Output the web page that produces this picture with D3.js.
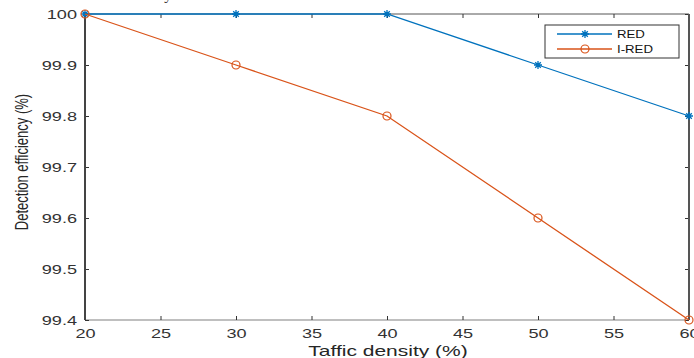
<!DOCTYPE html>
<html>
<head>
  <meta charset="utf-8">
  <script src="https://d3js.org/d3.v7.min.js"></script>
  <style>
    body { margin: 0; background: white; }
    svg { display: block; font-family: "Liberation Sans", Arial, sans-serif; }
    .tick text { fill: #333; font-size: 12.5px; }
  </style>
</head>
<body>
<script>
  // chart data
  var density = [20, 30, 40, 50, 60];
  var red = [100, 100, 100, 99.9, 99.8];
  var ired = [100, 99.9, 99.8, 99.6, 99.4];
  var xTicks = [20, 25, 30, 35, 40, 45, 50, 55, 60];
  var yTicks = [99.4, 99.5, 99.6, 99.7, 99.8, 99.9, 100];
  var seriesNames = ["RED", "I-RED"];

  var W = 694, H = 358;
  var mLeft = 85, mRight = 689, mTop = 14, mBottom = 320;
  var sx = 1.45; // the figure looks stretched sideways

  var svg = d3.select("body").append("svg").attr("width", W).attr("height", H);

  var x = d3.scaleLinear().domain([20, 60]).range([mLeft, mRight]);
  var y = d3.scaleLinear().domain([99.4, 100]).range([mBottom, mTop]);

  // widen a text around its anchor point
  function widen(sel, k) {
    sel.each(function () {
      var ax = +d3.select(this).attr("x") || 0;
      d3.select(this).attr("transform",
        "translate(" + ax + ",0) scale(" + k + ",1) translate(" + (-ax) + ",0)");
    });
  }

  // scrap of the page text cut off above the figure
  svg.append("text")
    .attr("x", 30).attr("y", 0)
    .attr("font-size", 15).attr("fill", "#222")
    .attr("font-family", "Liberation Serif, serif")
    .text("when the traffic density increases from 20% to 60%");

  // box lines
  svg.append("line").attr("x1", mLeft).attr("x2", mRight).attr("y1", mTop).attr("y2", mTop)
    .attr("stroke", "#555").attr("stroke-width", 1);
  svg.append("line").attr("x1", mLeft).attr("x2", mRight).attr("y1", mBottom).attr("y2", mBottom)
    .attr("stroke", "#aaa").attr("stroke-width", 1.5);

  // axes
  var xAxis = svg.append("g").attr("transform", "translate(0," + mBottom + ")")
    .call(d3.axisBottom(x).tickValues(xTicks).tickSize(-4).tickPadding(9).tickFormat(d3.format("d")));
  xAxis.select(".domain").remove();
  xAxis.selectAll(".tick line").attr("stroke", "#333");
  widen(xAxis.selectAll(".tick text"), sx);

  var xTop = svg.append("g").attr("transform", "translate(0," + mTop + ")")
    .call(d3.axisTop(x).tickValues(xTicks).tickSize(-4).tickFormat(""));
  xTop.select(".domain").remove();
  xTop.selectAll(".tick line").attr("stroke", "#333");

  var yAxis = svg.append("g").attr("transform", "translate(" + mLeft + ",0)")
    .call(d3.axisLeft(y).tickValues(yTicks).tickSize(-4).tickPadding(8)
      .tickFormat(function (d) { return d === 100 ? "100" : d3.format(".1f")(d); }));
  yAxis.select(".domain").remove();
  yAxis.selectAll(".tick line").attr("stroke", "#333");
  widen(yAxis.selectAll(".tick text"), sx);

  var yRight = svg.append("g").attr("transform", "translate(" + mRight + ",0)")
    .call(d3.axisRight(y).tickValues(yTicks).tickSize(-4).tickFormat(""));
  yRight.select(".domain").remove();
  yRight.selectAll(".tick line").attr("stroke", "#333");

  svg.append("line").attr("x1", mLeft).attr("x2", mLeft).attr("y1", mTop).attr("y2", mBottom)
    .attr("stroke", "#444").attr("stroke-width", 2);
  svg.append("line").attr("x1", mRight).attr("x2", mRight).attr("y1", mTop).attr("y2", mBottom)
    .attr("stroke", "#555").attr("stroke-width", 2);

  // axis titles
  svg.append("text").attr("x", 388).attr("y", 356)
    .attr("text-anchor", "middle").attr("font-size", 14).attr("fill", "#262626")
    .attr("transform", "translate(388,0) scale(1.5,1) translate(-388,0)")
    .text("Taffic density (%)");
  svg.append("text")
    .attr("transform", "translate(28,162) scale(" + sx + ",1) rotate(-90)")
    .attr("text-anchor", "middle").attr("font-size", 13).attr("fill", "#262626")
    .text("Detection efficiency (%)");

  var colors = ["#0072BD", "#D95319"];
  var series = [red, ired];

  var line = d3.line().x(function (d, i) { return x(density[i]); }).y(function (d) { return y(d); });

  function star(g, cx, cy, c) {
    var r = 4;
    g.append("path")
      .attr("d", "M" + (cx - r) + "," + cy + "H" + (cx + r) +
        "M" + cx + "," + (cy - r) + "V" + (cy + r) +
        "M" + (cx - r * 0.7) + "," + (cy - r * 0.7) + "L" + (cx + r * 0.7) + "," + (cy + r * 0.7) +
        "M" + (cx - r * 0.7) + "," + (cy + r * 0.7) + "L" + (cx + r * 0.7) + "," + (cy - r * 0.7))
      .attr("stroke", c).attr("stroke-width", 1.3).attr("fill", "none");
  }
  function circ(g, cx, cy, c) {
    g.append("circle").attr("cx", cx).attr("cy", cy).attr("r", 4)
      .attr("fill", "none").attr("stroke", c).attr("stroke-width", 1.2);
  }

  series.forEach(function (s, k) {
    var g = svg.append("g");
    g.append("path").datum(s).attr("d", line)
      .attr("fill", "none").attr("stroke", colors[k]).attr("stroke-width", 1.3);
    s.forEach(function (v, i) {
      if (k === 0) star(g, x(density[i]), y(v), colors[k]);
      else circ(g, x(density[i]), y(v), colors[k]);
    });
  });

  // legend
  var lg = svg.append("g");
  lg.append("rect").attr("x", 545).attr("y", 25).attr("width", 134).attr("height", 33)
    .attr("fill", "white").attr("stroke", "#333").attr("stroke-width", 1);
  seriesNames.forEach(function (name, k) {
    var ly = 34 + k * 15;
    lg.append("line").attr("x1", 557).attr("x2", 612).attr("y1", ly).attr("y2", ly)
      .attr("stroke", colors[k]).attr("stroke-width", 1.3);
    if (k === 0) star(lg, 585, ly, colors[k]); else circ(lg, 585, ly, colors[k]);
    lg.append("text").attr("x", 617).attr("y", ly + 4.2).attr("font-size", 11.5)
      .attr("fill", "#111")
      .attr("transform", "translate(617,0) scale(1.15,1) translate(-617,0)")
      .text(name);
  });
</script>
</body>
</html>
